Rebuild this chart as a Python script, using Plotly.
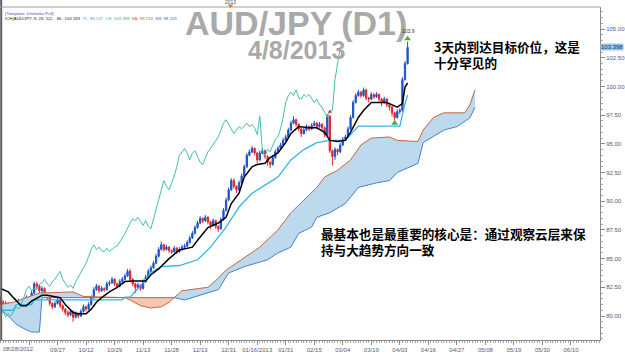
import plotly.graph_objects as go

# ---------------- data ----------------
OPEN = [81.5, 81.2, 80.9, 81.1, 80.6, 80.4, 80.1, 81.0, 81.3, 81.1,
        81.4, 81.6, 81.4, 82.0, 82.8, 82.6, 82.2, 82.4, 81.9, 81.6,
        81.1, 80.8, 81.1, 81.4, 80.9, 80.6, 80.3, 80.1, 80.4, 79.9,
        80.2, 80.0, 80.4, 80.8, 80.6, 81.0, 81.6, 82.3, 82.6, 82.2,
        82.4, 82.3, 82.8, 82.9, 83.2, 82.8, 82.6, 83.0, 83.2, 83.5,
        83.9, 83.2, 82.8, 82.5, 82.7, 82.4, 83.0, 83.4, 83.9, 84.2,
        84.6, 85.2, 85.8, 86.2, 85.8, 86.0, 85.7, 85.6, 85.9, 85.6,
        85.8, 86.0, 86.1, 86.4, 86.8, 87.2, 87.7, 88.1, 88.5, 88.3,
        88.6, 88.2, 87.9, 88.3, 87.8, 87.6, 88.4, 89.2, 90.1, 91.0,
        91.8, 91.3, 91.0, 91.6, 92.2, 93.0, 94.0, 94.3, 94.6, 94.2,
        93.6, 94.2, 94.4, 93.9, 93.4, 93.2, 93.8, 94.3, 94.6, 94.9,
        95.3, 95.6, 96.2, 96.8, 97.1, 96.7, 96.3, 95.9, 96.2, 96.5,
        96.3, 96.6, 96.8, 96.5, 96.7, 96.4, 95.8, 97.4, 94.4, 93.9,
        94.5, 94.3, 94.9, 95.4, 95.6, 96.3, 97.3, 98.6, 99.2, 99.5,
        99.2, 99.7, 99.0, 98.9, 99.3, 99.1, 99.3, 98.9, 98.6, 98.9,
        98.4, 98.2, 97.7, 97.3, 97.8, 97.9, 100.6, 102.0]
HIGH = [81.7, 81.4, 81.3, 81.2, 80.8, 80.5, 81.2, 81.5, 81.4, 81.6,
        81.8, 81.7, 82.2, 83.0, 83.0, 82.7, 82.6, 82.5, 82.0, 81.7,
        81.2, 81.3, 81.6, 81.5, 81.0, 80.7, 80.5, 80.6, 80.5, 80.4,
        80.3, 80.6, 81.0, 80.9, 81.2, 81.8, 82.5, 82.8, 82.7, 82.6,
        82.5, 83.0, 83.1, 83.4, 83.3, 82.9, 83.2, 83.4, 83.7, 84.1,
        84.1, 83.3, 82.9, 82.9, 82.8, 83.2, 83.6, 84.1, 84.4, 84.8,
        85.4, 86.0, 86.5, 86.3, 86.2, 86.1, 85.8, 86.1, 86.0, 86.0,
        86.2, 86.3, 86.6, 87.0, 87.4, 87.9, 88.3, 88.7, 88.6, 88.8,
        88.7, 88.3, 88.5, 88.4, 87.9, 88.6, 89.4, 90.3, 91.2, 92.0,
        92.0, 91.4, 91.8, 92.4, 93.2, 94.2, 94.5, 94.8, 94.7, 94.3,
        94.4, 94.6, 94.5, 94.0, 93.5, 94.0, 94.5, 94.8, 95.1, 95.5,
        95.8, 96.4, 97.0, 97.4, 97.2, 96.8, 96.4, 96.4, 96.7, 96.6,
        96.8, 97.0, 96.9, 96.9, 96.8, 96.5, 97.6, 97.5, 94.5, 94.7,
        94.6, 95.1, 95.6, 95.8, 96.5, 97.5, 98.8, 99.4, 99.7, 99.6,
        99.9, 99.8, 99.1, 99.5, 99.4, 99.5, 99.4, 99.0, 99.1, 99.0,
        98.5, 98.3, 97.8, 98.0, 98.1, 100.8, 102.2, 103.9]
LOW = [81.0, 80.7, 80.8, 80.4, 80.2, 79.8, 80.0, 80.9, 80.9, 81.0,
       81.3, 81.2, 81.3, 81.9, 82.4, 82.0, 82.0, 81.7, 81.4, 80.9,
       80.6, 80.7, 81.0, 80.7, 80.4, 80.1, 79.9, 80.0, 79.5, 79.8,
       79.8, 79.9, 80.3, 80.4, 80.5, 80.9, 81.5, 82.2, 82.0, 82.1,
       82.1, 82.2, 82.6, 82.8, 82.6, 82.4, 82.5, 82.9, 83.1, 83.4,
       83.0, 82.6, 82.0, 82.4, 82.2, 82.3, 82.9, 83.3, 83.8, 84.1,
       84.5, 85.1, 85.7, 85.6, 85.7, 85.5, 85.4, 85.5, 85.4, 85.5,
       85.7, 85.9, 86.0, 86.3, 86.7, 87.1, 87.6, 88.0, 88.1, 88.2,
       88.0, 87.6, 87.8, 87.6, 87.3, 87.5, 88.3, 89.1, 90.0, 90.9,
       91.1, 90.7, 90.9, 91.5, 92.1, 92.9, 93.9, 94.2, 94.0, 93.3,
       93.5, 94.1, 93.7, 93.1, 92.9, 93.1, 93.7, 94.2, 94.5, 94.8,
       95.2, 95.5, 96.1, 96.7, 96.5, 96.1, 95.6, 95.8, 96.1, 96.1,
       96.2, 96.5, 96.3, 96.4, 96.2, 95.6, 95.7, 94.2, 93.1, 93.6,
       94.0, 94.2, 94.8, 95.3, 95.5, 96.2, 97.2, 98.5, 99.1, 99.0,
       99.1, 98.8, 98.6, 98.8, 98.9, 99.0, 98.7, 98.3, 98.5, 98.2,
       97.9, 97.4, 97.0, 97.2, 97.6, 97.8, 100.5, 101.9]
CLOSE = [81.2, 80.9, 81.1, 80.6, 80.4, 80.1, 81.0, 81.3, 81.1, 81.4,
         81.6, 81.4, 82.0, 82.8, 82.6, 82.2, 82.4, 81.9, 81.6, 81.1,
         80.8, 81.1, 81.4, 80.9, 80.6, 80.3, 80.1, 80.4, 79.9, 80.2,
         80.0, 80.4, 80.8, 80.6, 81.0, 81.6, 82.3, 82.6, 82.2, 82.4,
         82.3, 82.8, 82.9, 83.2, 82.8, 82.6, 83.0, 83.2, 83.5, 83.9,
         83.2, 82.8, 82.5, 82.7, 82.4, 83.0, 83.4, 83.9, 84.2, 84.6,
         85.2, 85.8, 86.2, 85.8, 86.0, 85.7, 85.6, 85.9, 85.6, 85.8,
         86.0, 86.1, 86.4, 86.8, 87.2, 87.7, 88.1, 88.5, 88.3, 88.6,
         88.2, 87.9, 88.3, 87.8, 87.6, 88.4, 89.2, 90.1, 91.0, 91.8,
         91.3, 91.0, 91.6, 92.2, 93.0, 94.0, 94.3, 94.6, 94.2, 93.6,
         94.2, 94.4, 93.9, 93.4, 93.2, 93.8, 94.3, 94.6, 94.9, 95.3,
         95.6, 96.2, 96.8, 97.1, 96.7, 96.3, 95.9, 96.2, 96.5, 96.3,
         96.6, 96.8, 96.5, 96.7, 96.4, 95.8, 97.4, 94.4, 93.9, 94.5,
         94.3, 94.9, 95.4, 95.6, 96.3, 97.3, 98.6, 99.2, 99.5, 99.2,
         99.7, 99.0, 98.9, 99.3, 99.1, 99.3, 98.9, 98.6, 98.9, 98.4,
         98.2, 97.7, 97.3, 97.8, 97.9, 100.6, 102.0, 103.4]
BAR_INDEX = list(range(len(CLOSE)))

# Tenkan-sen (black)
TENKAN_X = [0, 3, 5, 8, 10, 12, 16, 18, 23, 25, 28, 30, 33, 35, 37, 39, 42, 45, 48, 51,
            56, 58, 61, 65, 69, 74, 76, 80, 84, 87, 89, 92, 94, 97, 99, 102, 104, 107, 110, 112,
            115, 119, 122, 125, 127, 130, 133, 135, 138, 140, 143, 149, 150, 153, 155, 156, 157]
TENKAN_Y = [82.4, 82.1, 81.6, 80.9, 80.9, 81.3, 81.8, 81.8, 81.6, 81.0, 80.3, 80.2, 80.2, 80.6, 81.2, 81.6, 82.1, 82.5, 83.0, 83.05,
            83.05, 83.6, 84.1, 85.0, 85.75, 86.0, 86.6, 87.7, 88.1, 88.6, 89.8, 90.7, 92.1, 93.0, 93.2, 93.3, 93.8, 94.2, 95.1, 95.9,
            96.5, 96.4, 96.4, 96.0, 95.3, 95.2, 95.3, 96.0, 97.3, 97.9, 98.6, 98.6, 98.5, 98.2, 98.5, 99.95, 100.3]
# Kijun-sen (light blue)
KIJUN_X = [0, 5, 6, 12, 13, 47, 48, 50, 51, 55, 58, 62, 69, 76, 81, 87, 92, 97, 102, 107,
           112, 117, 122, 127, 133, 135, 138, 154, 155, 156, 157]
KIJUN_Y = [80.5, 80.5, 81.0, 81.0, 81.4, 81.4, 81.65, 81.65, 81.9, 82.9, 83.8, 84.3, 84.4, 84.9, 86.0, 87.75, 89.5, 90.7, 91.4, 92.1,
           93.6, 94.5, 95.1, 95.3, 95.3, 95.8, 96.55, 96.55, 97.6, 98.5, 99.25]
# Senkou span A (red-brown)
SPAN_A_X = [0, 5, 10, 15, 28, 32, 48, 50, 54, 58, 62, 65, 67, 70, 80, 84, 87, 94, 100, 107,
            112, 117, 122, 125, 130, 135, 139, 143, 150, 153, 161, 163, 167, 171, 179, 181, 183]
SPAN_A_Y = [81.0, 81.2, 81.6, 82.0, 82.1, 81.7, 81.6, 81.4, 80.9, 80.7, 80.8, 81.2, 81.6, 82.2, 82.5, 83.3, 84.0, 85.1, 86.0, 87.5,
            89.0, 90.1, 91.2, 92.1, 92.7, 93.6, 94.9, 95.5, 95.6, 95.3, 95.2, 96.2, 97.3, 97.7, 97.7, 98.4, 99.7]
# Senkou span B (blue)
SPAN_B_X = [0, 3, 6, 9, 12, 15, 16, 48, 67, 71, 84, 88, 94, 103, 107, 112, 115, 120, 122, 127,
            133, 138, 145, 150, 153, 161, 163, 171, 176, 181, 183]
SPAN_B_Y = [80.6, 80.0, 79.3, 78.9, 78.6, 78.6, 81.6, 81.6, 81.6, 81.4, 82.3, 83.75, 84.3, 84.9, 85.5, 86.0, 87.2, 87.75, 88.6, 89.0,
            89.8, 91.2, 91.6, 91.8, 92.5, 93.3, 95.1, 96.2, 96.5, 97.25, 98.2]
CHIKOU_SHIFT = 26
# cloud segments (bar index where span A and span B cross) and their fills
CLOUD_SPLITS = [0, 48, 67, 183]
CLOUD_FILLS = ["#bcd9ee", "#f6c7ad", "#bcd9ee"]

SIGNAL_UP_X = [152, 157]
SIGNAL_UP_Y = [96.8, 104.15]
SIGNAL_RED_X = [127]
SIGNAL_RED_Y = [97.8]

DATE_TICK_IDX = [11, 22, 33, 44, 55, 66, 77, 88, 99, 110, 121, 132, 143, 154, 165, 176, 187, 198, 209, 220]
DATE_TICK_TEXT = ["", "09/27", "10/12", "10/29", "11/13", "11/28", "12/13", "12/31", "01/16/2013", "01/31",
                  "02/15", "03/04", "03/19", "04/03", "04/16", "04/27", "05/08", "05/19", "05/30", "06/10"]
FIRST_DATE_LABEL = "08/28/2012"
YEAR_MARK_IDX = 88.7
YEAR_MARK_TEXT = "2013"
PRICE_TICKS = [80.0, 82.5, 85.0, 87.5, 90.0, 92.5, 95.0, 97.5, 100.0, 102.5, 105.0]
LAST_PRICE = 103.398
HIGH_LABEL = "103.9"

# ---------------- figure ----------------
W, H = 625, 358
ML, MR, MT, MB = 0, 21, 7, 18
PW, PH = W - ML - MR, H - MT - MB


def px(x):
    return (x - ML) / PW


def py(y):
    return 1 - (y - MT) / PH


fig = go.Figure()

# cloud fills
for k in range(len(CLOUD_SPLITS) - 1):
    a, b = CLOUD_SPLITS[k], CLOUD_SPLITS[k + 1]
    ax = [x for x in SPAN_A_X if a <= x <= b]
    ay = [y for x, y in zip(SPAN_A_X, SPAN_A_Y) if a <= x <= b]
    bx = [x for x in SPAN_B_X if a <= x <= b]
    by = [y for x, y in zip(SPAN_B_X, SPAN_B_Y) if a <= x <= b]
    fig.add_trace(go.Scatter(x=ax + bx[::-1], y=ay + by[::-1], fill="toself",
                             fillcolor=CLOUD_FILLS[k], line=dict(width=0),
                             mode="lines", hoverinfo="skip", showlegend=False))

fig.add_trace(go.Scatter(x=SPAN_A_X, y=SPAN_A_Y, mode="lines",
                         line=dict(color="#c8653e", width=1), showlegend=False))
fig.add_trace(go.Scatter(x=SPAN_B_X, y=SPAN_B_Y, mode="lines",
                         line=dict(color="#4a82c4", width=1), showlegend=False))

# chikou span: closes drawn 26 bars back
fig.add_trace(go.Scatter(x=[i - CHIKOU_SHIFT for i in BAR_INDEX[CHIKOU_SHIFT:]],
                         y=CLOSE[CHIKOU_SHIFT:], mode="lines",
                         line=dict(color="#3fbfae", width=1), showlegend=False))

fig.add_trace(go.Candlestick(
    x=BAR_INDEX, open=OPEN, high=HIGH, low=LOW, close=CLOSE,
    increasing=dict(line=dict(color="#1f52c8", width=1), fillcolor="#1f52c8"),
    decreasing=dict(line=dict(color="#e2262b", width=1), fillcolor="#e2262b"),
    whiskerwidth=0, showlegend=False))

fig.add_trace(go.Scatter(x=KIJUN_X, y=KIJUN_Y, mode="lines",
                         line=dict(color="#34b4e6", width=1.3), showlegend=False))
fig.add_trace(go.Scatter(x=TENKAN_X, y=TENKAN_Y, mode="lines",
                         line=dict(color="#000000", width=1.5), showlegend=False))

fig.add_trace(go.Scatter(x=SIGNAL_UP_X, y=SIGNAL_UP_Y, mode="markers",
                         marker=dict(symbol="triangle-up", size=6, color="#3cb43c"),
                         showlegend=False))
fig.add_trace(go.Scatter(x=SIGNAL_RED_X, y=SIGNAL_RED_Y, mode="markers",
                         marker=dict(symbol="triangle-up", size=4, color="#e2262b"),
                         showlegend=False))

tick_font = dict(family="Liberation Sans, Arial, sans-serif", size=6, color="#5a5a78")

fig.update_layout(
    width=W, height=H,
    margin=dict(l=ML, r=MR, t=MT, b=MB),
    paper_bgcolor="white", plot_bgcolor="white",
    showlegend=False,
    xaxis=dict(range=[-0.19, 231.2], rangeslider=dict(visible=False),
               tickvals=DATE_TICK_IDX, ticktext=DATE_TICK_TEXT,
               tickfont=tick_font, ticks="outside", ticklen=4, tickcolor="#8a8a8a",
               minor=dict(dtick=1, ticks="outside", ticklen=2, tickcolor="#a8a8a8"),
               showline=True, linecolor="#8a8a8a", linewidth=1,
               showgrid=False, zeroline=False, fixedrange=True),
    yaxis=dict(range=[77.91, 106.92], side="right",
               tickvals=PRICE_TICKS, ticktext=[f"{v:.2f}" for v in PRICE_TICKS],
               tickfont=tick_font, ticks="outside", ticklen=4, tickcolor="#8a8a8a",
               minor=dict(dtick=0.5, ticks="outside", ticklen=2, tickcolor="#a8a8a8"),
               showline=True, linecolor="#8a8a8a", linewidth=1,
               showgrid=False, zeroline=False, fixedrange=True),
)

# frame lines
fig.add_shape(type="line", xref="paper", yref="paper", x0=0.002, x1=0.002, y0=0, y1=1.03,
              line=dict(color="#606060", width=2))
fig.add_shape(type="line", xref="paper", yref="paper", x0=0, x1=1, y0=1, y1=1,
              line=dict(color="#a0a0a0", width=1))
# small orange year-boundary marker on the top border
fig.add_shape(type="path", xref="x", yref="paper",
              path=(f"M {YEAR_MARK_IDX - 1.1},{py(4.5)} L {YEAR_MARK_IDX + 1.1},{py(4.5)} "
                    f"L {YEAR_MARK_IDX},{py(8)} Z"),
              fillcolor="#e07a20", line=dict(width=0))

small = "Liberation Sans, Arial, sans-serif"
ann = []
ann.append(dict(text="AUD/JPY (D1)", x=px(298), y=py(23), xref="paper", yref="paper",
                xanchor="center", yanchor="middle", showarrow=False,
                font=dict(family=small, size=34, color="#a9a9a9", weight="bold")))
ann.append(dict(text="4/8/2013", x=px(298), y=py(50), xref="paper", yref="paper",
                xanchor="center", yanchor="middle", showarrow=False,
                font=dict(family=small, size=25, color="#a9a9a9", weight="bold")))
ann.append(dict(text="[Template: Ichimoku Full]", x=px(3), y=py(13.5), xref="paper", yref="paper",
                xanchor="left", yanchor="middle", showarrow=False,
                font=dict(family=small, size=4.4, color="#4a55a8")))
ann.append(dict(text=("ICH(AUD/JPY, 9, 26, 52) -  BL: 100.183  "
                      "<span style='color:#3aaee0'>TL: 98.137</span>  "
                      "<span style='color:#2fb38a'>CS: 103.398</span>  "
                      "<span style='color:#d0542e'>SA: 99.713</span>  "
                      "<span style='color:#3c6fd0'>SB: 98.209</span>"),
                x=px(3), y=py(18.5), xref="paper", yref="paper",
                xanchor="left", yanchor="middle", showarrow=False,
                font=dict(family=small, size=4.3, color="#222222")))

cjk = dict(family="Noto Sans CJK SC", size=12.6, color="#000000", weight="bold")
for txt, x0, y0 in [("3天内到达目标价位，这是<br>十分罕见的", 435, 54),
                    ("最基本也是最重要的核心是：通过观察云层来保<br>持与大趋势方向一致", 321, 241)]:
    ann.append(dict(text=txt, x=px(x0), y=py(y0), xref="paper", yref="paper",
                    xanchor="left", yanchor="middle", align="left", showarrow=False, font=cjk))

ann.append(dict(text=f"{LAST_PRICE:.3f}", x=1, y=LAST_PRICE, xref="paper", yref="y",
                xanchor="left", yanchor="middle", showarrow=False,
                bgcolor="#8fcaf0", borderpad=0,
                font=dict(family=small, size=6, color="#1a2a6a")))
ann.append(dict(text=HIGH_LABEL, x=BAR_INDEX[-1] + 0.4, y=104.8, xref="x", yref="y",
                xanchor="center", yanchor="middle", showarrow=False,
                font=dict(family=small, size=5, color="#333333")))
ann.append(dict(text=YEAR_MARK_TEXT, x=YEAR_MARK_IDX, y=py(2.0), xref="x", yref="paper",
                xanchor="center", yanchor="middle", showarrow=False,
                font=dict(family=small, size=5, color="#555555")))
ann.append(dict(text=FIRST_DATE_LABEL, x=px(1), y=py(349), xref="paper", yref="paper",
                xanchor="left", yanchor="middle", showarrow=False, font=tick_font))
fig.update_layout(annotations=ann)

# the page should start at its top-left corner, like the reference picture
fig.write_html("out.html",
               config={"displayModeBar": False},
               post_script="document.body.style.margin='0';document.body.style.padding='0';"
                           "document.body.style.overflow='hidden';")
